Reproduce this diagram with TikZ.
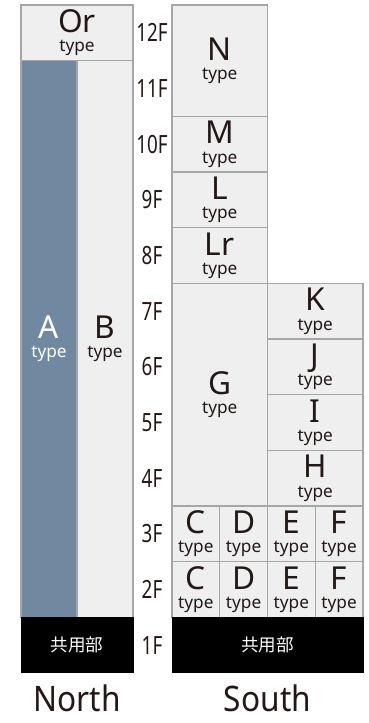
\documentclass[tikz,border=0pt]{standalone}
\usepackage{fontspec}
\setmainfont{Noto Sans}
\newfontfamily\cjk{Noto Sans CJK JP}
\definecolor{slate}{RGB}{112,137,161}
\definecolor{roomfill}{RGB}{239,239,239}
\definecolor{roomline}{RGB}{166,166,166}
\definecolor{ink}{RGB}{35,24,21}
\newcommand{\roomtype}[1]{{\fontsize{18}{11}\selectfont #1}\\type}

\begin{document}
\begin{tikzpicture}[y=1.1133cm,
          room/.style={draw=roomline,fill=roomfill,text=ink,line width=0.6pt,%
            inner sep=0pt,align=center,font=\fontsize{9.8}{11}\selectfont},
          shared/.style={fill=black,text=white,inner sep=0pt,%
            font=\cjk\fontsize{10}{12}\selectfont},
          floorlbl/.style={text=ink,font=\fontsize{14.3}{16}\selectfont,%
            xscale=0.75,transform shape},
          side/.style={text=ink,font=\fontsize{20}{24}\selectfont,anchor=base,%
            xscale=0.9,transform shape}]
          \useasboundingbox (0,-0.898) rectangle (7.36,12.09);
          % north wing
          \node[room,minimum width=2.24cm,minimum height=1.113cm] (Or) %
          at (1.54,11.5) {\roomtype{Or}};
          \node[room,fill=slate,text=white,minimum width=1.12cm,%
            minimum height=11.133cm] (A) at (0.98,6) {\roomtype{A}};
          \node[room,minimum width=1.12cm,minimum height=11.133cm] (B) %
          at (2.10,6) {\roomtype{B}};
          \node[shared,minimum width=2.26cm,minimum height=1.113cm] (NC) %
          at (1.54,0.5) {共用部};
          % south wing
          \node[room,minimum width=1.91cm,minimum height=2.227cm] (N) %
          at (4.395,11) {\roomtype{N}};
          \node[room,minimum width=1.91cm,minimum height=1.113cm] (M) %
          at (4.395,9.5) {\roomtype{M}};
          \node[room,minimum width=1.91cm,minimum height=1.113cm] (L) %
          at (4.395,8.5) {\roomtype{L}};
          \node[room,minimum width=1.91cm,minimum height=1.113cm] (Lr) %
          at (4.395,7.5) {\roomtype{Lr}};
          \node[room,minimum width=1.91cm,minimum height=4.453cm] (G) %
          at (4.395,5) {\roomtype{G}};
          \foreach \u/\yy in {K/6.5,J/5.5,I/4.5,H/3.5}
            \node[room,minimum width=1.91cm,minimum height=1.113cm] (\u) %
            at (6.305,\yy) {\roomtype{\u}};
          \foreach \fl in {2,3}
            \foreach \u/\xx in {C/3.9175,D/4.8725,E/5.8275,F/6.7825}
              \node[room,minimum width=0.955cm,minimum height=1.113cm] %
              (\u\fl) at (\xx,\fl-0.5) {\roomtype{\u}};
          \node[shared,minimum width=3.84cm,minimum height=1.113cm] (SC) %
          at (5.35,0.5) {共用部};
          % floors
          \foreach \f in {1,...,12}
            \node[floorlbl] (fl\f) at (3.04,\f-0.5) {\f F};
          \node[side] (north) at (1.54,-0.70) {North};
          \node[side] (south) at (5.35,-0.70) {South};
        \end{tikzpicture}
\end{document}
